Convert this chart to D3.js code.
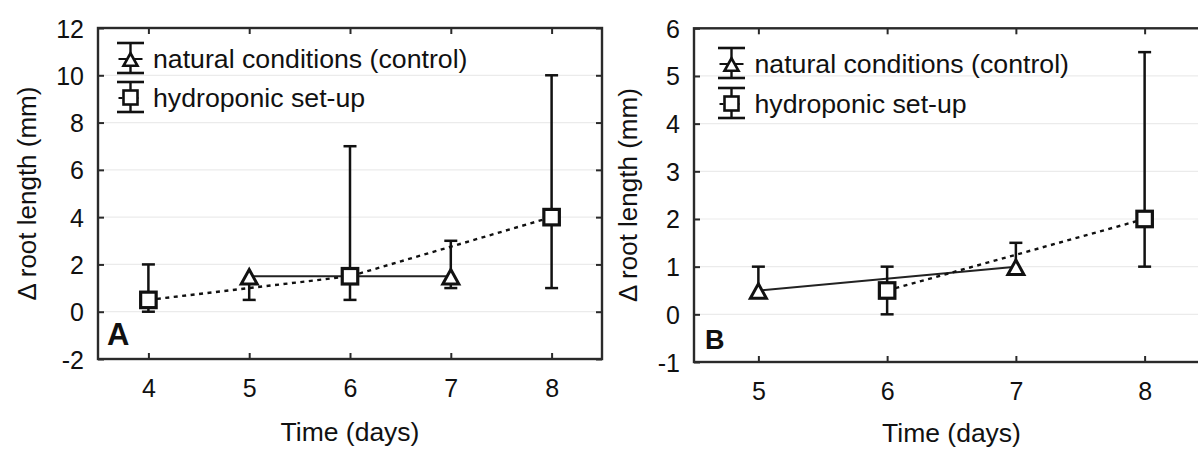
<!DOCTYPE html>
<html>
<head>
<meta charset="utf-8">
<script src="https://cdn.jsdelivr.net/npm/d3@7"></script>
<style>
  html, body { margin: 0; padding: 0; background: #fff; }
  svg { display: block; }
  text { font-family: "Liberation Sans", Arial, sans-serif; fill: #111; }
</style>
</head>
<body>
<svg id="fig" width="1198" height="449"></svg>
<script>
// ---- Panel A data ----
const aXTicks = [4, 5, 6, 7, 8];
const aYTicks = [-2, 0, 2, 4, 6, 8, 10, 12];
const aYTickLabels = ["-2", "0", "2", "4", "6", "8", "10", "12"];
const aNaturalDays = [5, 7];
const aNaturalMean = [1.5, 1.5];
const aNaturalLow  = [0.5, 1.0];
const aNaturalHigh = [1.5, 3.0];
const aHydroDays = [4, 6, 8];
const aHydroMean = [0.5, 1.5, 4.0];
const aHydroLow  = [0.0, 0.5, 1.0];
const aHydroHigh = [2.0, 7.0, 10.0];

// ---- Panel B data ----
const bXTicks = [5, 6, 7, 8];
const bYTicks = [-1, 0, 1, 2, 3, 4, 5, 6];
const bYTickLabels = ["-1", "0", "1", "2", "3", "4", "5", "6"];
const bNaturalDays = [5, 7];
const bNaturalMean = [0.5, 1.0];
const bNaturalLow  = [0.5, 1.0];
const bNaturalHigh = [1.0, 1.5];
const bHydroDays = [6, 8];
const bHydroMean = [0.5, 2.0];
const bHydroLow  = [0.0, 1.0];
const bHydroHigh = [1.0, 5.5];

const seriesNames = ["natural conditions (control)", "hydroponic set-up"];
const xTitle = "Time (days)";
const yTitle = "\u0394 root length (mm)";
const panelLetters = ["A", "B"];

const svg = d3.select("#fig");
const INK = "#111";
const FRAME = "#2a2a2a";

function triPath(w, h) {
  // upright triangle centred on the data point
  return `M0,${-h * 0.46}L${w / 2},${h * 0.54}L${-w / 2},${h * 0.54}Z`;
}

function drawPanel(o) {
  const g = svg.append("g");
  const x = d3.scaleLinear().domain(o.xDomain).range([o.left, o.right]);
  const y = d3.scaleLinear().domain(o.yDomain).range([o.bottom, o.top]);

  // light horizontal grid
  g.append("g").selectAll("line")
    .data(o.yTicks.filter(v => v > o.yDomain[0] && v < o.yDomain[1]))
    .join("line")
    .attr("x1", o.left).attr("x2", o.right)
    .attr("y1", d => y(d)).attr("y2", d => y(d))
    .attr("stroke", "#ebebeb").attr("stroke-width", 1.2);

  // inward ticks on all four sides
  const styleAxis = sel => {
    sel.attr("color", FRAME).attr("font-size", null).attr("font-family", null);
    sel.select(".domain").remove();
    sel.selectAll(".tick line").attr("stroke-width", 2);
  };
  g.append("g").attr("transform", `translate(${o.left},0)`)
    .call(d3.axisLeft(y).tickValues(o.yTicks).tickFormat((d, i) => o.yLabels[i])
      .tickSize(-6).tickPadding(14))
    .call(styleAxis)
    .selectAll("text").style("font-size", "25px").attr("fill", INK).attr("dy", "0.36em");
  g.append("g").attr("transform", `translate(${o.right},0)`)
    .call(d3.axisRight(y).tickValues(o.yTicks).tickFormat("").tickSize(-6))
    .call(styleAxis);
  g.append("g").attr("transform", `translate(0,${o.top})`)
    .call(d3.axisTop(x).tickValues(o.xTicks).tickFormat("").tickSize(-6))
    .call(styleAxis);
  g.append("g").attr("transform", `translate(0,${o.bottom})`)
    .call(d3.axisBottom(x).tickValues(o.xTicks).tickFormat(d3.format("d")).tickSize(-6))
    .call(styleAxis)
    .selectAll("text").style("font-size", "25px").attr("fill", INK)
    .attr("y", 38).attr("dy", null);

  // frame
  g.append("rect")
    .attr("x", o.left).attr("y", o.top)
    .attr("width", o.right - o.left).attr("height", o.bottom - o.top)
    .attr("fill", "none").attr("stroke", FRAME).attr("stroke-width", 2.4);

  const idx = arr => arr.map((_, i) => i);

  // connecting lines
  const nat = o.natural, hyd = o.hydro;
  g.append("path")
    .datum(idx(nat.days))
    .attr("d", d3.line().x(i => x(nat.days[i])).y(i => y(nat.mean[i])))
    .attr("fill", "none").attr("stroke", "#222").attr("stroke-width", 2);
  g.append("path")
    .datum(idx(hyd.days))
    .attr("d", d3.line().x(i => x(hyd.days[i])).y(i => y(hyd.mean[i])))
    .attr("fill", "none").attr("stroke", INK).attr("stroke-width", 2.4)
    .attr("stroke-dasharray", "4,4.5");

  // error bars; a whisker end that coincides with the mean is hidden by the marker
  const capW = 6.5;
  function errorBars(s) {
    const eg = g.append("g").attr("stroke", INK).attr("stroke-width", 2.5);
    idx(s.days).forEach(i => {
      const cx = x(s.days[i]);
      eg.append("line").attr("x1", cx).attr("x2", cx)
        .attr("y1", y(s.low[i])).attr("y2", y(s.high[i]));
      [s.low[i], s.high[i]].forEach(v => {
        if (v === s.mean[i]) return;
        eg.append("line").attr("x1", cx - capW).attr("x2", cx + capW)
          .attr("y1", y(v)).attr("y2", y(v));
      });
    });
  }
  errorBars(nat);
  errorBars(hyd);

  // markers
  g.append("g").selectAll("path").data(idx(nat.days)).join("path")
    .attr("transform", i => `translate(${x(nat.days[i])},${y(nat.mean[i])})`)
    .attr("d", triPath(16, 14.5))
    .attr("fill", "#fff").attr("stroke", INK).attr("stroke-width", 3)
    .attr("stroke-linejoin", "miter");
  g.append("g").selectAll("rect").data(idx(hyd.days)).join("rect")
    .attr("x", i => x(hyd.days[i]) - 7.75).attr("y", i => y(hyd.mean[i]) - 7.75)
    .attr("width", 15.5).attr("height", 15.5)
    .attr("fill", "#fff").attr("stroke", INK).attr("stroke-width", 3.2);

  // legend
  const lg = g.append("g");
  const cx = o.legend.x;
  seriesNames.forEach((name, k) => {
    const cy = o.legend.rows[k];
    const sg = lg.append("g").attr("transform", `translate(${cx},${cy})`);
    sg.append("line").attr("x1", -12).attr("x2", 12).attr("y1", 1).attr("y2", 1)
      .attr("stroke", INK).attr("stroke-width", 2)
      .attr("stroke-dasharray", k === 1 ? "4,4" : null);
    sg.append("line").attr("x1", 0).attr("x2", 0).attr("y1", -15).attr("y2", 15)
      .attr("stroke", INK).attr("stroke-width", 2.4);
    [-15, 15].forEach(v => sg.append("line").attr("x1", -13.5).attr("x2", 13.5)
      .attr("y1", v).attr("y2", v).attr("stroke", INK).attr("stroke-width", 2.6));
    if (k === 0) {
      sg.append("path").attr("transform", "translate(0,1)").attr("d", triPath(14, 12.5))
        .attr("fill", "#fff").attr("stroke", INK).attr("stroke-width", 2.6);
    } else {
      sg.append("rect").attr("x", -7).attr("y", -6.5).attr("width", 14).attr("height", 14)
        .attr("fill", "#fff").attr("stroke", INK).attr("stroke-width", 2.6);
    }
    lg.append("text").attr("x", o.legend.textX).attr("y", cy + 9.5)
      .style("font-size", "26.7px").text(name);
  });

  // titles and panel letter
  g.append("text")
    .attr("x", (o.left + o.right) / 2).attr("y", o.xTitleY)
    .attr("text-anchor", "middle").style("font-size", "26.5px").text(xTitle);
  g.append("text")
    .attr("transform", `translate(${o.yTitleX},${(o.top + o.bottom) / 2}) rotate(-90)`)
    .attr("text-anchor", "middle").style("font-size", "26px").text(yTitle);
  g.append("text")
    .attr("x", o.letter.x).attr("y", o.letter.y)
    .style("font-size", o.letter.size + "px").style("font-weight", "bold")
    .text(o.letter.text);
}

drawPanel({
  left: 98, right: 602, top: 28, bottom: 359,
  xDomain: [3.5, 8.5], yDomain: [-2, 12],
  xTicks: aXTicks, yTicks: aYTicks, yLabels: aYTickLabels,
  natural: { days: aNaturalDays, mean: aNaturalMean, low: aNaturalLow, high: aNaturalHigh },
  hydro: { days: aHydroDays, mean: aHydroMean, low: aHydroLow, high: aHydroHigh },
  legend: { x: 130.5, rows: [58, 97], textX: 153 },
  xTitleY: 440.5, yTitleX: 36,
  letter: { text: panelLetters[0], x: 107, y: 345, size: 31 }
});

drawPanel({
  left: 694, right: 1209, top: 28.3, bottom: 362,
  xDomain: [4.5, 8.5], yDomain: [-1, 6],
  xTicks: bXTicks, yTicks: bYTicks, yLabels: bYTickLabels,
  natural: { days: bNaturalDays, mean: bNaturalMean, low: bNaturalLow, high: bNaturalHigh },
  hydro: { days: bHydroDays, mean: bHydroMean, low: bHydroLow, high: bHydroHigh },
  legend: { x: 731.5, rows: [63, 103], textX: 754.5 },
  xTitleY: 442, yTitleX: 637,
  letter: { text: panelLetters[1], x: 705, y: 349, size: 27 }
});
</script>
</body>
</html>
